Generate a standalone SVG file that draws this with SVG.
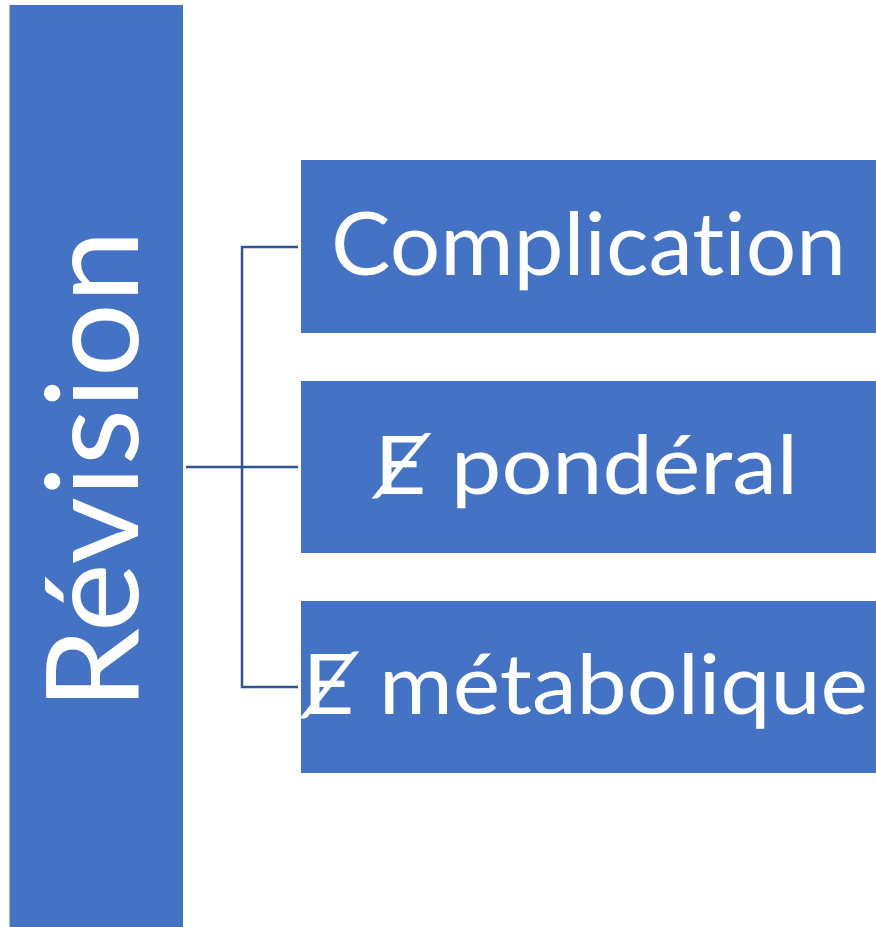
<svg xmlns="http://www.w3.org/2000/svg" width="876" height="927" viewBox="0 0 876 927">
<style>
.box{fill:#4472C4;}
.lbl{fill:#FFFFFF;font-family:Lato,"DejaVu Sans",sans-serif;font-variant-ligatures:none;font-feature-settings:"liga" 0,"clig" 0;}
.conn{fill:none;stroke:#2F5597;stroke-width:2.5;}
</style>
<rect width="876" height="927" fill="#FFFFFF"/>
<g id="connectors">
<path class="conn" d="M186 467 H298"/>
<path class="conn" d="M298 247 H242 V687 H298"/>
</g>
<g id="node-revision">
<rect class="box" x="9.5" y="5" width="173.5" height="922"/>
<text class="lbl" transform="translate(138,710) rotate(-90)" x="0" y="0" font-size="128" textLength="480" lengthAdjust="spacingAndGlyphs">Révision</text>
</g>
<g id="node-complication">
<rect class="box" x="301" y="160" width="575" height="173"/>
<text class="lbl" x="331" y="275" font-size="88" textLength="515" lengthAdjust="spacingAndGlyphs">Complication</text>
</g>
<g id="node-ponderal">
<rect class="box" x="301" y="381" width="575" height="172"/>
<text class="lbl" x="374" y="494" font-size="82" textLength="424" lengthAdjust="spacingAndGlyphs">Ɇ pondéral</text>
</g>
<g id="node-metabolique">
<rect class="box" x="301" y="601" width="575" height="172"/>
<text class="lbl" x="302" y="714" font-size="84" textLength="566" lengthAdjust="spacingAndGlyphs">Ɇ métabolique</text>
</g>
</svg>
